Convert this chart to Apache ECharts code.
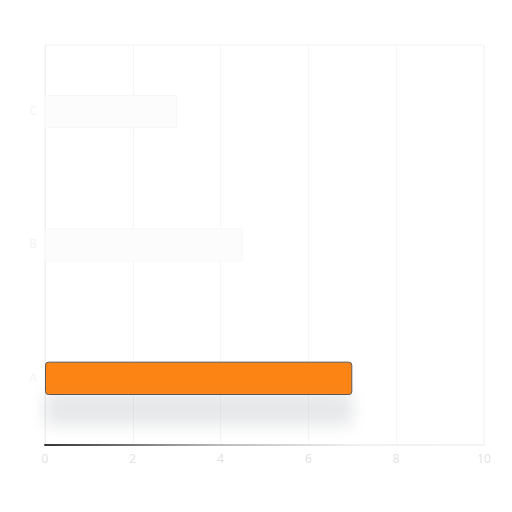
<!DOCTYPE html>
<html><head><meta charset="utf-8">
<script src="https://cdn.jsdelivr.net/npm/echarts@6/dist/echarts.min.js"></script>
<style>html,body{margin:0;padding:0;background:#fff}#c{width:512px;height:512px}</style>
</head><body><div id="c"></div>
<script>
var categories = ['A', 'B', 'C'];
var highlightValues = [7, null, null];
var fadedValues = [null, 4.5, 3];
var xTicks = [0, 2, 4, 6, 8, 10];

var chart = echarts.init(document.getElementById('c'), null, {renderer: 'canvas'});
chart.setOption({
  backgroundColor: '#ffffff',
  animation: false,
  grid: {left: 45, right: 28, top: 45, bottom: 67, containLabel: false,
         show: true, borderColor: '#f3f3f3', borderWidth: 1},
  xAxis: {
    type: 'value', min: xTicks[0], max: xTicks[xTicks.length - 1], interval: 2,
    axisLine: {show: true, lineStyle: {width: 2, color: new echarts.graphic.LinearGradient(0, 0, 1, 0, [
      {offset: 0, color: '#333333'}, {offset: 0.4, color: '#bbbbbb'}, {offset: 0.7, color: '#f0f0f0'}, {offset: 1, color: '#f4f4f4'}
    ])}},
    axisTick: {show: false},
    splitLine: {show: true, lineStyle: {color: '#f5f5f5'}},
    axisLabel: {color: '#e2e2e2', fontSize: 12, fontFamily: 'Noto Sans', margin: 9}
  },
  yAxis: {
    type: 'category', data: categories,
    axisLine: {show: true, lineStyle: {color: '#eeeeee'}},
    axisTick: {show: false},
    splitLine: {show: false},
    axisLabel: {color: '#f4f4f4', fontSize: 12, fontFamily: 'Noto Sans'}
  },
  series: [
    {
      name: 'faded', type: 'bar', data: fadedValues, barWidth: '25%', barGap: '-100%',
      itemStyle: {color: '#fcfcfc', borderColor: '#f7f7f7', borderWidth: 1}
    },
    {
      name: 'highlight', type: 'bar', data: highlightValues, barWidth: '25%', barGap: '-100%',
      itemStyle: {color: '#fb8414', borderColor: '#5a5a5a', borderWidth: 1, borderRadius: 3,
                  shadowColor: 'rgba(60,75,95,0.13)', shadowBlur: 16, shadowOffsetY: 30, shadowOffsetX: 0}
    }
  ]
});
</script></body></html>
